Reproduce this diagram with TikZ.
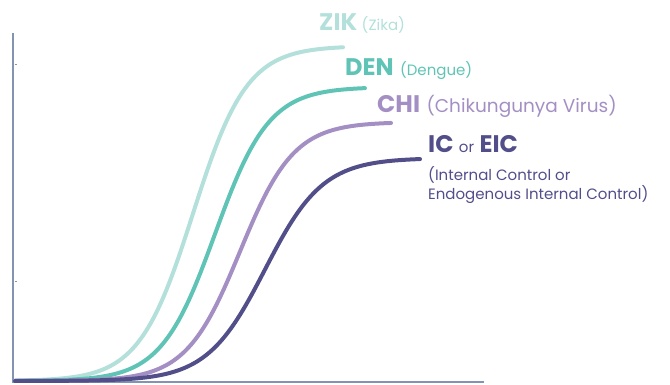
\documentclass[tikz,border=0pt]{standalone}
\usepackage{fontspec}
\setmainfont{Poppins}
\usetikzlibrary{positioning}
\definecolor{zikcol}{HTML}{B3E0DA}
\definecolor{dencol}{HTML}{5FC4B5}
\definecolor{chicol}{HTML}{A48FC4}
\definecolor{iccol}{HTML}{524E8A}
\definecolor{axiscol}{HTML}{8593B2}

\begin{document}
\begin{tikzpicture}[x=1pt, y=-1pt,
    axis/.style={draw=axiscol, line width=1.6pt},
    curve/.style={line width=4pt, line cap=round},
    tag/.style={font=\bfseries\fontsize{24}{24}\selectfont, inner sep=0pt, anchor=base west},
    note/.style={font=\fontsize{15}{19}\selectfont, inner sep=0pt, anchor=base west}
    ]
    \useasboundingbox (0,0) rectangle (670,384);
    % axes
    \coordinate (o) at (13,382);
    \coordinate (ytop) at (13,33);
    \coordinate (xend) at (484,382);
    \draw[axis] (ytop) -- (o) -- (xend);
    \foreach \t in {64,281}
      \draw[axiscol, line width=0.8pt] (14.5,\t) -- (16.5,\t);
    % curves: colour/center/scale/plateau/end
    \foreach \c/\m/\s/\p/\e in {zikcol/193/27/46/343, dencol/215/27/87/365,
                               chicol/240/27/122/391, iccol/265/29/158/420}
      \draw[curve, \c] plot[domain=15:\e, samples=150]
        (\x, {381 - (381-\p)/(1+exp(-(\x-\m)/\s))});
    % labels
    \node[tag, zikcol] (zik) at (319,30) {ZIK};
    \node[note, zikcol, right=4pt of zik.base east, anchor=base west] (zikname) {(Zika)};
    \node[tag, dencol] (den) at (345,75) {DEN};
    \node[note, dencol, right=6pt of den.base east, anchor=base west] (denname) {(Dengue)};
    \node[tag, chicol] (chi) at (377,112) {CHI};
    \node[note, chicol, font=\fontsize{18.5}{22}\selectfont, right=6pt of chi.base east, anchor=base west] (chiname) {(Chikungunya Virus)};
    \node[tag, iccol] (ic) at (428,152) {IC};
    \node[note, iccol, right=5pt of ic.base east, anchor=base west] (icor) {or};
    \node[tag, iccol, right=5pt of icor.base east, anchor=base west] (eic) {EIC};
    \node[note, iccol, align=left] (icname) at (428,199) {(Internal Control or\\Endogenous Internal Control)};
  \end{tikzpicture}
\end{document}
